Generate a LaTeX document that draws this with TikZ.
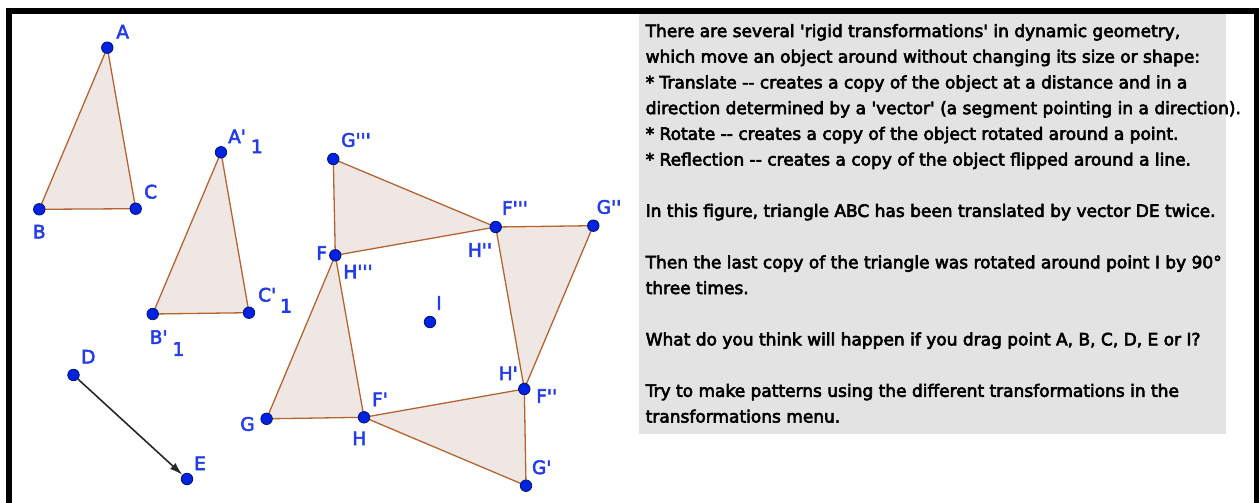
\documentclass[tikz,border=0pt]{standalone}
\usepackage{fontspec}
\newfontfamily\gfont{DejaVu Sans}[Ligatures=TeXOff, FakeBold=3]
\newfontfamily\tfont{DejaVu Sans}[Ligatures=TeXOff, FakeBold=3.5]
\usetikzlibrary{arrows.meta}
\definecolor{trifill}{RGB}{238,231,228}
\definecolor{triedge}{RGB}{180,100,50}
\definecolor{ptfill}{RGB}{0,35,225}
\definecolor{ptdraw}{RGB}{0,20,110}
\definecolor{lblblue}{RGB}{35,60,230}
\definecolor{boxgrey}{RGB}{227,227,227}
\definecolor{vecgrey}{RGB}{40,40,40}
\tikzset{
  tri/.style={fill=trifill, draw=triedge, line width=1.3pt, line join=round},
  pt/.style={circle, fill=ptfill, draw=ptdraw, line width=0.8pt, inner sep=0pt, minimum size=11.5pt},
  lbl/.style={text=lblblue, font=\gfont\fontsize{18.5}{18.5}\selectfont, inner sep=0pt},
  txt/.style={anchor=base west, inner sep=0pt, text=black, font=\tfont\fontsize{17}{20}\selectfont},
  vec/.style={draw=vecgrey, line width=1.6pt, -{Latex[length=13pt,width=8pt]}},
}
\begin{document}
\begin{tikzpicture}[x=1pt,y=-1pt]
\useasboundingbox (0,0) rectangle (1259,503);
% frame
\fill[black] (6,8) rectangle (1259,14.5);
\fill[black] (6,8) rectangle (12,503);
\fill[black] (1254,8) rectangle (1259,503);
% text box
\fill[boxgrey] (639,14.5) rectangle (1226,434);

% coordinates
\coordinate (pA) at (107.3,47.7);
\coordinate (pB) at (39.3,209.3);
\coordinate (pC) at (135.7,208.7);
\coordinate (pA1) at (221,152.3);
\coordinate (pB1) at (152.7,314);
\coordinate (pC1) at (249,312.7);
\coordinate (pD) at (73.5,375);
\coordinate (pE) at (187,479);
\coordinate (pF) at (335.3,255.3);
\coordinate (pG) at (266.6,418.8);
\coordinate (pH) at (364,417.3);
\coordinate (pG1) at (526,485.7);
\coordinate (pF2) at (524.3,389);
\coordinate (pG2) at (593.3,225.7);
\coordinate (pF3) at (495.7,227);
\coordinate (pG3) at (333.3,159);
\coordinate (pI) at (430,322);

% triangles
\draw[tri] (pA) -- (pB) -- (pC) -- cycle;
\draw[tri] (pA1) -- (pB1) -- (pC1) -- cycle;
\draw[tri] (pF) -- (pG) -- (pH) -- cycle;
\draw[tri] (pH) -- (pG1) -- (pF2) -- cycle;
\draw[tri] (pF2) -- (pG2) -- (pF3) -- cycle;
\draw[tri] (pF3) -- (pG3) -- (pF) -- cycle;

% points
\node[pt] (A) at (pA) {};
\node[pt] (B) at (pB) {};
\node[pt] (C) at (pC) {};
\node[pt] (A1) at (pA1) {};
\node[pt] (B1) at (pB1) {};
\node[pt] (C1) at (pC1) {};
\node[pt] (D) at (pD) {};
\node[pt] (E) at (pE) {};
\node[pt] (F) at (pF) {};
\node[pt] (G) at (pG) {};
\node[pt] (H) at (pH) {};
\node[pt] (G1) at (pG1) {};
\node[pt] (F2) at (pF2) {};
\node[pt] (G2) at (pG2) {};
\node[pt] (F3) at (pF3) {};
\node[pt] (G3) at (pG3) {};
\node[pt] (I) at (pI) {};

% vector DE
\draw[vec] (D) -- (E);

% labels
\node[lbl] (lA) at (122.7,31.7) {A};
\node[lbl] (lB) at (39.3,231.7) {B};
\node[lbl] (lC) at (150.7,191.7) {C};
\node[lbl] (lD) at (88.3,356.7) {D};
\node[lbl] (lE) at (200,463.3) {E};
\node[lbl] (lI) at (439,303) {I};
\node[lbl] (lF) at (321.7,253) {F};
\node[lbl] (lG) at (247.5,424) {G};
\node[lbl] (lH) at (359.3,438.3) {H};
\node[lbl] (lF1) at (380,399.3) {F'};
\node[lbl] (lG1) at (541.7,467.3) {G'};
\node[lbl] (lH1) at (508.3,373.3) {H'};
\node[lbl] (lF2) at (546.7,396) {F''};
\node[lbl] (lG2) at (609,207) {G''};
\node[lbl] (lH2) at (480,250) {H''};
\node[lbl] (lF3) at (515,208) {F'''};
\node[lbl] (lG3) at (356,140) {G'''};
\node[lbl] (lH3) at (358,271.7) {H'''};
\node[lbl, anchor=base west] (lA1) at (228,143.2) {A'\hspace{5pt}\raisebox{-10pt}{1}};
\node[lbl, anchor=base west] (lB1) at (149.6,343.8) {B'\hspace{5pt}\raisebox{-12pt}{1}};
\node[lbl, anchor=base west] (lC1) at (258,301.5) {C'\hspace{4pt}\raisebox{-11pt}{1}};

% text
\node[txt] (t0) at (645.5,37) {There are several 'rigid transformations' in dynamic geometry,};
\node[txt] (t1) at (645.5,62.7) {which move an object around without changing its size or shape:};
\node[txt] (t2) at (645.5,88.4) {* Translate -{}- creates a copy of the object at a distance and in a};
\node[txt] (t3) at (645.5,114.1) {direction determined by a 'vector' (a segment pointing in a direction).};
\node[txt] (t4) at (645.5,139.8) {* Rotate -{}- creates a copy of the object rotated around a point.};
\node[txt] (t5) at (645.5,165.5) {* Reflection -{}- creates a copy of the object flipped around a line.};
\node[txt] (t7) at (645.5,216.9) {In this figure, triangle ABC has been translated by vector DE twice.};
\node[txt] (t9) at (645.5,268.3) {Then the last copy of the triangle was rotated around point I by 90°};
\node[txt] (t10) at (645.5,294) {three times.};
\node[txt] (t12) at (645.5,345.4) {What do you think will happen if you drag point A, B, C, D, E or I?};
\node[txt] (t14) at (645.5,396.8) {Try to make patterns using the different transformations in the};
\node[txt] (t15) at (645.5,422.5) {transformations menu.};
\end{tikzpicture}
\end{document}
